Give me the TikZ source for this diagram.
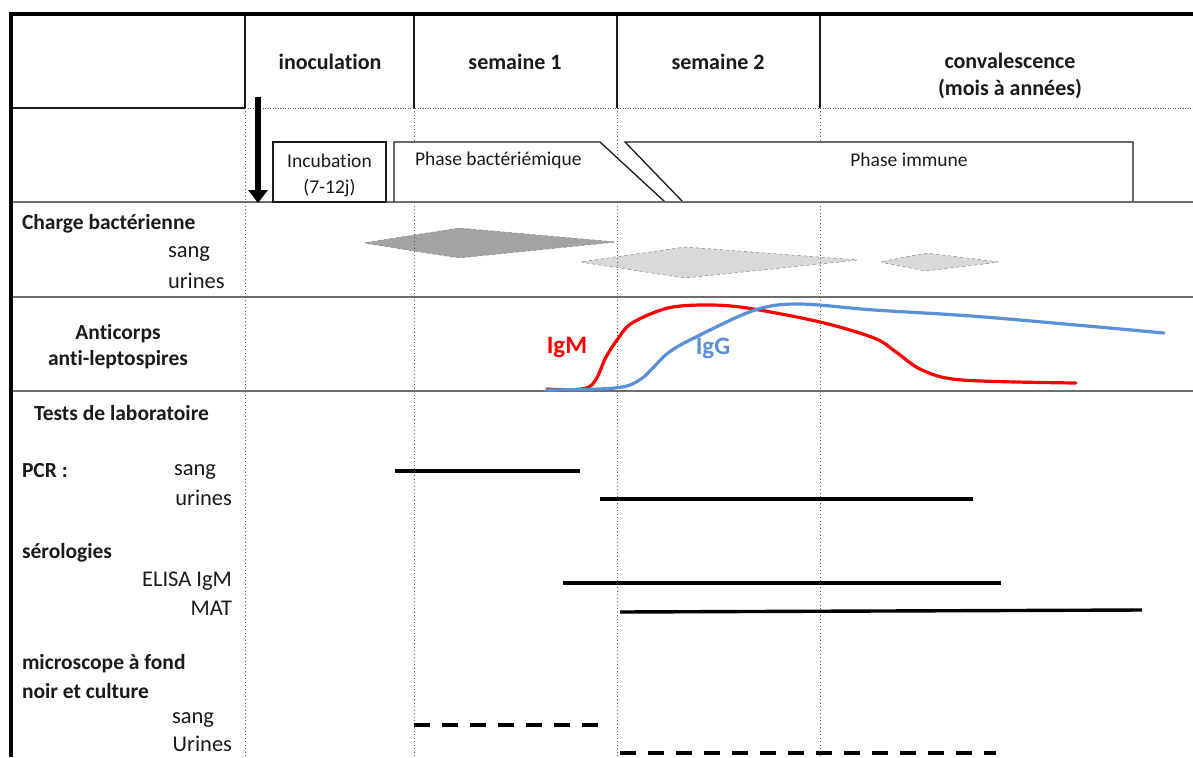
\documentclass[tikz,border=0pt]{standalone}
\usepackage{fontspec}
\setmainfont{Carlito}[Ligatures=NoCommon]
\usetikzlibrary{arrows.meta}
\definecolor{txt}{HTML}{1A1A1A}
\definecolor{gridc}{HTML}{6E6E6E}
\definecolor{darkload}{HTML}{A3A3A3}
\definecolor{lightload}{HTML}{D9D9D9}
\definecolor{igm}{HTML}{FF0000}
\definecolor{igg}{HTML}{5B8FD6}
\begin{document}
\begin{tikzpicture}[x=1pt,y=-1pt,
  every node/.style={inner sep=0pt, outer sep=0pt, text=txt},
  hdr/.style={font=\fontsize{22}{27}\selectfont\bfseries, align=center},
  blbl/.style={font=\fontsize{21.5}{26}\selectfont\bfseries},
  lbl/.style={font=\fontsize{22.5}{26}\selectfont},
  phasetxt/.style={font=\fontsize{19.5}{26}\selectfont, align=center},
  gridline/.style={draw=gridc, line width=1.8pt},
  hdrline/.style={draw=txt, line width=1.3pt},
  frame/.style={draw=black, line width=4pt},
  dotv/.style={draw=gray!70!black, line width=0.9pt, dash pattern=on 0.9pt off 2.6pt},
  phasebox/.style={draw=txt, line width=1.3pt, fill=white},
  loadshape/.style={draw=gray, line width=0.5pt, dashed, rounded corners=3pt},
  testline/.style={draw=black, line width=3.4pt},
  testdash/.style={draw=black, line width=3.4pt, dash pattern=on 16pt off 12pt},
  abcurve/.style={line width=3.2pt, line cap=round, line join=round}
]
\useasboundingbox (0,0) rectangle (1193,757);
\fill[white] (0,0) rectangle (1193,757);

% ---- dotted verticals in phase row
\foreach \xx in {245,414,617,820} \draw[dotv] (\xx,108) -- (\xx,202);

% ---- grid lines
\draw[hdrline] (11,108) -- (245,108);
\draw[dotv, dash pattern=on 0.9pt off 1.6pt] (245,108) -- (1193,108);
\foreach \xx in {245,414,617,820} \draw[hdrline] (\xx,14) -- (\xx,108);
\draw[gridline] (11,202) -- (1193,202);
\draw[gridline] (11,297) -- (1193,297);
\draw[gridline] (11,391) -- (1193,391);
\draw[frame] (9,14) -- (1193,14);
\draw[frame] (11,12) -- (11,757);

% ---- header texts
\node[hdr] (hinoc) at (330,62) {inoculation};
\node[hdr] (hsem1) at (515,62) {semaine 1};
\node[hdr] (hsem2) at (718,62) {semaine 2};
\node[hdr] (hconv) at (1010,76) {convalescence\\(mois à années)};

% ---- phase boxes
\draw[phasebox] (273,142) rectangle (386,202);
\node[phasetxt] (incub) at (329.5,175) {Incubation\\(7-12j)};
\draw[phasebox] (394,202) -- (394,142) -- (600,142) -- (665,202) -- cycle;
\node[phasetxt, anchor=west] (bact) at (415,160) {Phase bactériémique};
\draw[phasebox] (1133,202) -- (683,202) -- (625,142) -- (1133,142) -- cycle;
\node[phasetxt] (immune) at (909,160) {Phase immune};
\draw[gridline] (394,202) -- (1193,202);

% ---- inoculation arrow
\coordinate (arrS) at (258,97);
\coordinate (arrE) at (258,203);
\draw[line width=6.5pt, -{Triangle[width=19pt,length=13pt]}] (arrS) -- (arrE);

% ---- bacterial load
\draw[loadshape, draw=darkload!80!black, fill=darkload] (363,243) -- (459,228) -- (617,242) -- (459,258) -- cycle;
\draw[loadshape, fill=lightload] (580,262) -- (685,247) -- (859,260) -- (685,278) -- cycle;
\draw[loadshape, fill=lightload] (880,262) -- (926,253) -- (1000,262) -- (926,271) -- cycle;

% ---- dotted verticals below phase row
\foreach \xx in {245,414,617,820} \draw[dotv] (\xx,202) -- (\xx,757);

% ---- left labels
\node[blbl, anchor=west] (charge) at (22,224) {Charge bactérienne};
\node[lbl, anchor=west] (csang) at (168,254) {sang};
\node[lbl, anchor=west] (curines) at (168,281) {urines};
\node[blbl, align=center] (antic) at (118,347) {Anticorps\\anti-leptospires};
\node[blbl, anchor=west] (tests) at (34,413) {Tests de laboratoire};
\node[blbl, anchor=west] (pcr) at (22,471) {PCR :};
\node[lbl, anchor=west] (psang) at (174,472) {sang};
\node[lbl, anchor=east] (purines) at (232,498) {urines};
\node[blbl, anchor=west] (sero) at (22,553) {sérologies};
\node[lbl, anchor=east] (elisa) at (232,581) {ELISA IgM};
\node[lbl, anchor=east] (mat) at (232,608) {MAT};
\node[blbl, anchor=west] (micro1) at (22,664) {microscope à fond};
\node[blbl, anchor=west] (micro2) at (22,691) {noir et culture};
\node[lbl, anchor=west] (msang) at (172,720) {sang};
\node[lbl, anchor=east] (murines) at (232,744) {Urines};

% ---- antibody curves
\draw[abcurve, draw=igm] plot[smooth, tension=0.55] coordinates {
 (547,389) (589,387) (606,357) (617,340) (632,323) (668,308) (707,305)
 (747,308) (820,322) (874,338) (896,352) (922,370) (962,380) (1076,383)};
\draw[abcurve, draw=igg] plot[smooth, tension=0.55] coordinates {
 (547,390) (615,388) (641,379) (668,353) (698,336) (755,310) (799,304)
 (874,310) (984,317) (1164,333)};
\node[font=\fontsize{25}{30}\selectfont\bfseries, text=igm] (lgm) at (567,348) {IgM};
\node[font=\fontsize{25}{30}\selectfont\bfseries, text=igg] (lgg) at (713,348) {IgG};

% ---- test periods
\coordinate (p1a) at (395,471); \coordinate (p1b) at (580,471);
\coordinate (p2a) at (600,499); \coordinate (p2b) at (973,499);
\coordinate (e1a) at (563,583); \coordinate (e1b) at (1001,583);
\coordinate (m1a) at (620,612); \coordinate (m1b) at (1142,610);
\coordinate (d1a) at (414,725); \coordinate (d1b) at (598,725);
\coordinate (d2a) at (620,753); \coordinate (d2b) at (996,753);
\draw[testline] (p1a) -- (p1b);
\draw[testline] (p2a) -- (p2b);
\draw[testline] (e1a) -- (e1b);
\draw[testline] (m1a) -- (m1b);
\draw[testdash] (d1a) -- (d1b);
\draw[testdash] (d2a) -- (d2b);
\end{tikzpicture}
\end{document}
